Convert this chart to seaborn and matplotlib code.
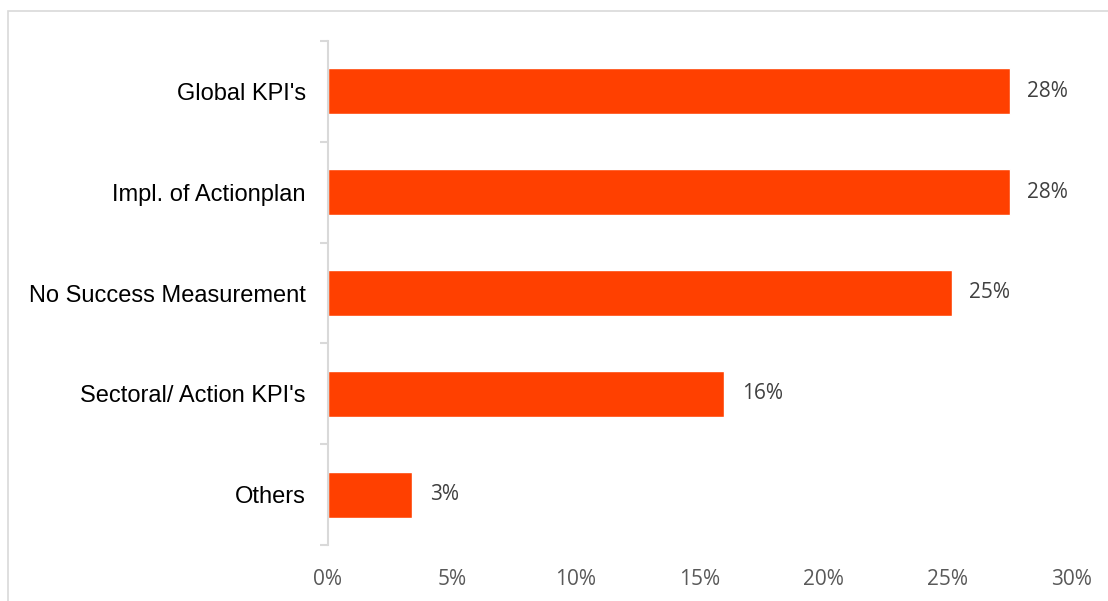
import matplotlib
matplotlib.use("Agg")
import matplotlib.pyplot as plt
import seaborn as sns
import pandas as pd
from matplotlib.patches import Rectangle
from matplotlib.ticker import FixedLocator

categories = ["Global KPI's", "Impl. of Actionplan", "No Success Measurement",
              "Sectoral/ Action KPI's", "Others"]
shares = [0.2753, 0.2753, 0.252, 0.160, 0.034]
x_ticks = [0, 0.05, 0.10, 0.15, 0.20, 0.25, 0.30]

df = pd.DataFrame({"category": categories, "share": shares})

sns.set_theme(style="white")
plt.rcParams['font.family'] = ['Liberation Sans', 'DejaVu Sans']

fig = plt.figure(figsize=(11.08, 6.01), dpi=100)
ax = fig.add_axes([328/1108, 1 - 545/601, (1071-328)/1108, (545-41)/601])

sns.barplot(data=df, x="share", y="category", orient="h", color="#FF4000",
            width=0.455, saturation=1, ax=ax)

ax.set_xlim(0, 0.30)
ax.set_ylim(len(categories) - 0.5, -0.5)
ax.set_xticks(x_ticks)
ax.set_xticklabels([f"{t:.0%}" for t in x_ticks], color="#595959",
                   fontsize=15, family=['Open Sans', 'DejaVu Sans'])
ax.tick_params(axis="x", length=0, pad=17)
ax.tick_params(axis="y", length=0, pad=16, labelsize=17, labelcolor="black")
ax.yaxis.set_minor_locator(FixedLocator([i - 0.5 for i in range(len(categories) + 1)]))
ax.tick_params(axis="y", which="minor", length=6, width=1.5, color="#D9D9D9", left=True)
ax.set_xlabel("")
ax.set_ylabel("")

for s in ["top", "right", "bottom"]:
    ax.spines[s].set_visible(False)
ax.spines["left"].set_color("#D9D9D9")
ax.spines["left"].set_linewidth(1.5)

for i, v in enumerate(shares):
    ax.annotate(f"{v:.0%}", (v, i), xytext=(12.5, 0), textcoords="offset points",
                ha="left", va="center", fontsize=15, color="#404040",
                family=['Open Sans', 'DejaVu Sans'])

fig.patches.append(Rectangle((8/1108, -0.1), 1.2, 1.1 - 11/601,
                             transform=fig.transFigure, fill=False,
                             edgecolor="#D9D9D9", linewidth=1.2))

fig.savefig("out.png", dpi=100, facecolor="white")
